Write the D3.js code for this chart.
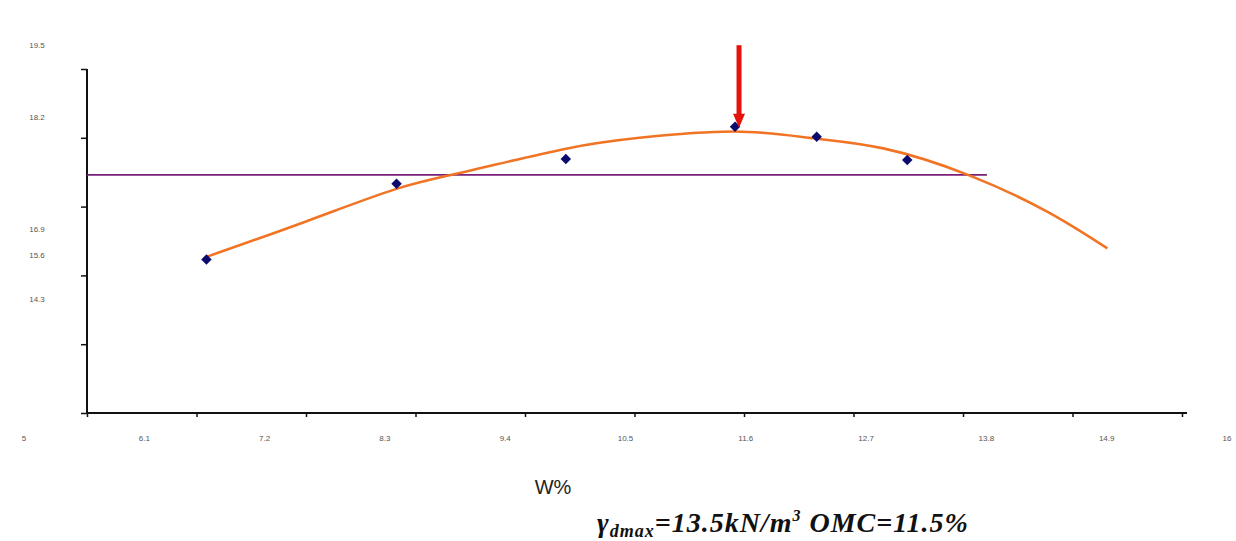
<!DOCTYPE html>
<head>
<meta charset="utf-8">
<style>
body{margin:0;background:#fff;}
.lab{font-family:"Liberation Sans",Arial,sans-serif;font-size:8px;fill:#555;}
</style>
</head>
<body>
<svg width="1236" height="541"></svg>
<script src="https://cdn.jsdelivr.net/npm/d3@7"></script>
<script type="text/javascript">

var svg = d3.select("svg");

// tick values / labels
var xTicks = [5, 6.1, 7.2, 8.3, 9.4, 10.5, 11.6, 12.7, 13.8, 14.9, 16];
var yTicks = [13, 14.3, 15.6, 16.9, 18.2, 19.5];
var yLabels = ["19.5", "18.2", "16.9", "15.6", "14.3"];
// where the (displaced) y labels sit, in y units
var yLabelAt = [19.95, 18.59, 16.48, 15.99, 15.15];

// measured points
var wPct = [6.20, 8.11, 9.81, 11.51, 12.33, 13.24];
var gammaD = [15.90, 17.33, 17.80, 18.41, 18.22, 17.78];

// trend curve
var curveW = [6.2, 7.2, 8.1, 8.8, 9.8, 10.55, 11.5, 12.3, 13.0, 13.85, 14.65, 15.25];
var curveG = [15.95, 16.62, 17.23, 17.56, 17.99, 18.20, 18.32, 18.19, 18.0, 17.5, 16.8, 16.11];

// horizontal reference line
var refLevel = 17.5, refFrom = 5, refTo = 14.04;
// arrow at OMC
var arrowW = 11.55, arrowTop = 19.95, arrowTip = 18.39;

var x = d3.scaleLinear().domain([5, 16]).range([87, 1182]);
var y = d3.scaleLinear().domain([13, 19.5]).range([413, 69]);
var xLab = d3.scaleLinear().domain([5, 16]).range([24, 1227]);

// axes
var xAxis = svg.append("g")
  .attr("transform", "translate(0," + y(13) + ")")
  .call(d3.axisBottom(x).tickValues(xTicks).tickSize(4).tickFormat(""));
xAxis.select(".domain").attr("stroke", "#111").attr("stroke-width", 2).attr("d", "M" + x(5) + ",0H" + (x(16) + 5));
xAxis.selectAll(".tick line").attr("stroke", "#111").attr("stroke-width", 1.5);

var yAxis = svg.append("g")
  .attr("transform", "translate(" + x(5) + ",0)")
  .call(d3.axisLeft(y).tickValues(yTicks).tickSize(6).tickFormat(""));
yAxis.select(".domain").attr("stroke", "#111").attr("stroke-width", 2).attr("d", "M0," + y(19.5) + "V" + y(13));
yAxis.selectAll(".tick line").attr("stroke", "#111").attr("stroke-width", 1.5);

svg.selectAll(".xlab").data(xTicks).enter().append("text")
  .attr("class", "lab")
  .attr("x", function(d){ return xLab(d); })
  .attr("y", 441)
  .attr("text-anchor", "middle")
  .text(function(d){ return d; });

svg.selectAll(".ylab").data(yLabels).enter().append("text")
  .attr("class", "lab")
  .attr("x", 37)
  .attr("y", function(d, i){ return y(yLabelAt[i]); })
  .attr("dy", "0.35em")
  .attr("text-anchor", "middle")
  .text(String);

// reference line
svg.append("line")
  .attr("x1", x(refFrom)).attr("x2", x(refTo))
  .attr("y1", y(refLevel)).attr("y2", y(refLevel))
  .attr("stroke", "#7a1f7a").attr("stroke-width", 1.6);

// trend curve
var pts = curveW.map(function(d, i){ return [d, curveG[i]]; });
svg.append("path")
  .datum(pts)
  .attr("fill", "none")
  .attr("stroke", "#f07424")
  .attr("stroke-width", 2.6)
  .attr("d", d3.line().x(function(d){ return x(d[0]); }).y(function(d){ return y(d[1]); }).curve(d3.curveNatural));

// points
svg.selectAll(".pt").data(wPct).enter().append("path")
  .attr("transform", function(d, i){ return "translate(" + x(d) + "," + y(gammaD[i]) + ")"; })
  .attr("d", d3.symbol().type(d3.symbolDiamond2).size(70))
  .attr("fill", "#0b0b6e");

// arrow
var ax = x(arrowW);
svg.append("line")
  .attr("x1", ax).attr("x2", ax)
  .attr("y1", y(arrowTop)).attr("y2", y(arrowTip) - 10)
  .attr("stroke", "#e3120b").attr("stroke-width", 5);
svg.append("path")
  .attr("d", "M" + (ax - 6) + "," + (y(arrowTip) - 14) + "L" + (ax + 6) + "," + (y(arrowTip) - 14) + "L" + ax + "," + y(arrowTip) + "Z")
  .attr("fill", "#e3120b");

// titles
svg.append("text")
  .attr("x", 553).attr("y", 494)
  .attr("text-anchor", "middle")
  .style("font-family", "Liberation Sans, Arial, sans-serif")
  .style("font-size", "20px")
  .style("fill", "#222")
  .text("W%");

var f = svg.append("text")
  .attr("x", 597).attr("y", 532)
  .style("font-family", "Liberation Serif, Times New Roman, serif")
  .style("font-style", "italic")
  .style("font-weight", "bold")
  .style("font-size", "28px")
  .style("letter-spacing", "1px")
  .style("fill", "#111");
f.append("tspan").text("γ");
f.append("tspan").attr("dy", 5).style("font-size", "18px").text("dmax");
f.append("tspan").attr("dy", -5).text("=13.5kN/m");
f.append("tspan").attr("dy", -11).style("font-size", "16px").text("3");
f.append("tspan").attr("dy", 11).text(" OMC=11.5%");

</script>
</body>
